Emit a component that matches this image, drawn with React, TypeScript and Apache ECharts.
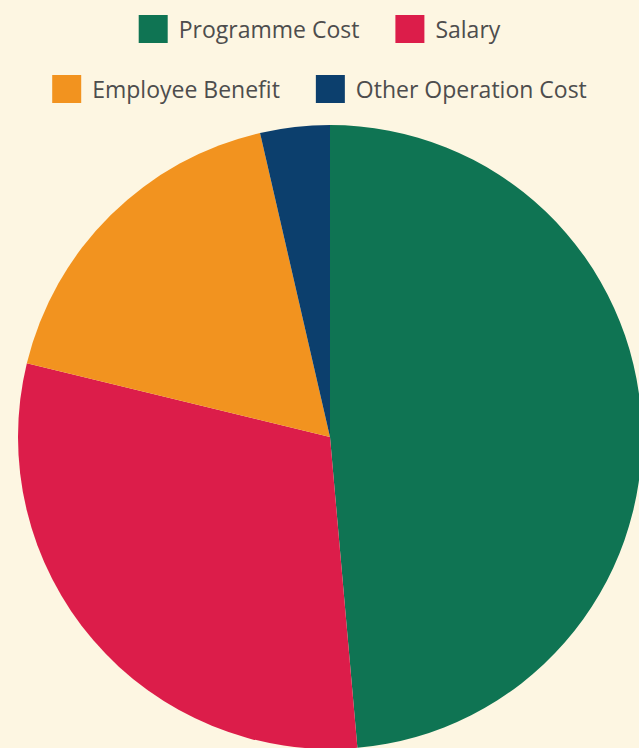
import React, { useEffect, useRef } from "react";
import * as echarts from "echarts";

const categories = ["Programme Cost", "Salary", "Employee Benefit", "Other Operation Cost"];
const values = [48.6, 30.2, 17.6, 3.6];
const colors = ["#0f7453", "#dc1d4a", "#f2931f", "#0c3f6d"];

export default function App() {
  const ref = useRef<HTMLDivElement>(null);
  useEffect(() => {
    if (!ref.current) return;
    const chart = echarts.init(ref.current, undefined, { renderer: "svg" });
    const legendCommon = {
      icon: "rect",
      itemWidth: 29,
      itemHeight: 28,
      itemGap: 36,
      selectedMode: false,
      textStyle: {
        fontFamily: "Open Sans",
        fontSize: 23,
        color: "#4d4d4d",
        padding: [0, 0, 0, 6],
      },
    };
    chart.setOption({
      animation: false,
      backgroundColor: "#fdf6e2",
      color: colors,
      legend: [
        { ...legendCommon, data: categories.slice(0, 2), left: "center", top: 10 },
        { ...legendCommon, data: categories.slice(2), left: "center", top: 70 },
      ],
      series: [
        {
          type: "pie",
          center: [330, 437],
          radius: 312,
          startAngle: 90,
          clockwise: true,
          label: { show: false },
          labelLine: { show: false },
          emphasis: { disabled: true },
          itemStyle: { borderWidth: 0 },
          data: categories.map((name, i) => ({ name, value: values[i] })),
        },
      ],
    });
    return () => chart.dispose();
  }, []);
  return (
    <div
      ref={ref}
      style={{ position: "fixed", left: 0, top: 0, width: 639, height: 748 }}
    />
  );
}
